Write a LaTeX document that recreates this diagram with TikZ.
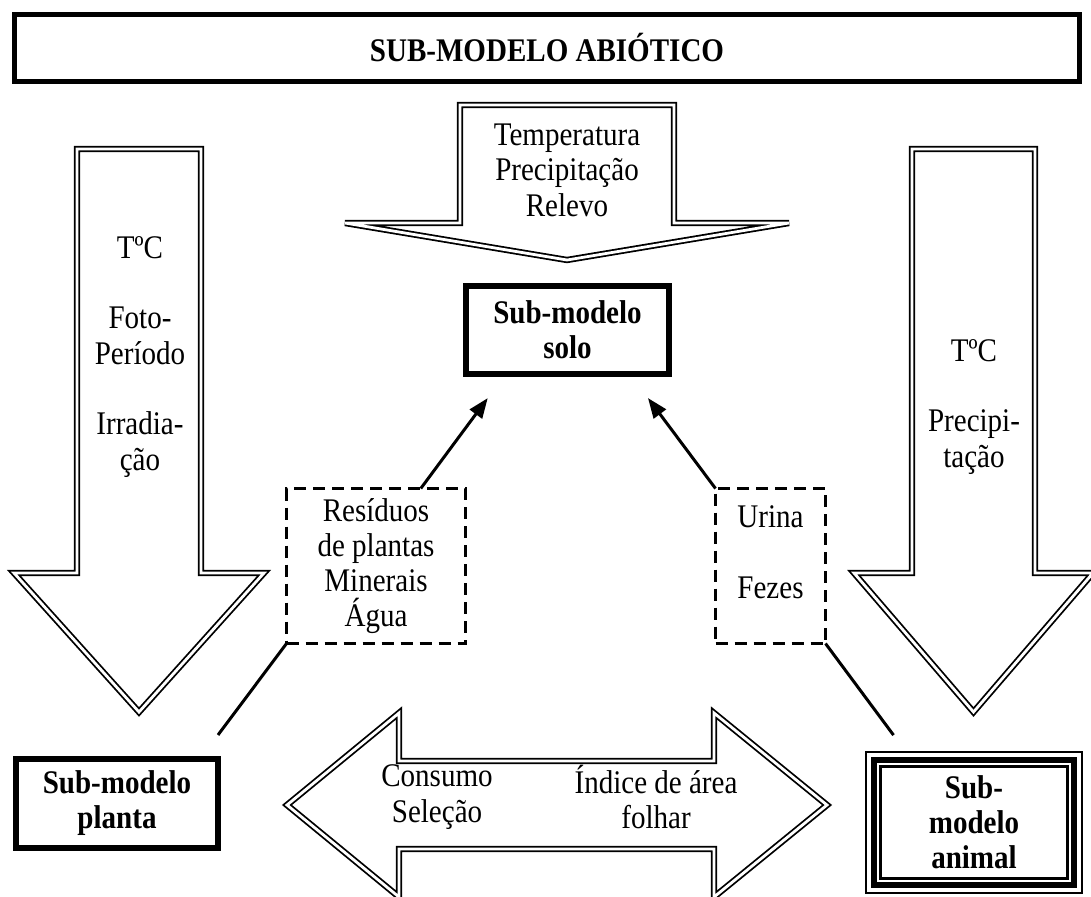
\documentclass[tikz,border=0pt]{standalone}
\usepackage{fontspec}
\setmainfont{Liberation Serif}[FakeStretch=0.88]
\usetikzlibrary{arrows.meta,calc}
\begin{document}
\begin{tikzpicture}[x=1pt,y=-1pt,
  dbl/.style={draw=black,line width=1.8pt,double=white,double distance=2.8pt,line join=miter,miter limit=12},
  lbl/.style={font=\fontsize{33}{35.5}\selectfont,align=center,inner sep=0pt},
  thickbox/.style={draw,line width=6pt,inner sep=0pt,outer sep=0pt,align=center,font=\bfseries\fontsize{33}{35}\selectfont},
  dashbox/.style={draw,line width=3pt,dash pattern=on 12pt off 7pt,inner sep=0pt,outer sep=0pt,align=center,font=\fontsize{33}{35}\selectfont},
  conn/.style={line width=3pt},
  arr/.style={conn,-{Triangle[length=20pt,width=15pt]}}]
\useasboundingbox (0,0) rectangle (1091,896);
\clip (0,0) rectangle (1091,896);

% big hollow arrows
\draw[dbl] (77,149) -- (201,149) -- (201,573) -- (264,573) -- (139,712) -- (14,573) -- (77,573) -- cycle;
\draw[dbl] (912,149) -- (1035,149) -- (1035,573) -- (1093,573) -- (973.5,712) -- (854,573) -- (912,573) -- cycle;
\draw[dbl] (460,105) -- (674,105) -- (674,223) -- (789,223) -- (567,260) -- (345,223) -- (460,223) -- cycle;
\draw[dbl] (287,805) -- (399,713) -- (399,761) -- (714,761) -- (714,713) -- (827,805) -- (714,897) -- (714,849) -- (399,849) -- (399,897) -- cycle;

% arrow texts
\node[lbl] (tl) at (140,357) {TºC\\[35pt]Foto-\\Período\\[35pt]Irradia-\\ção};
\node[lbl] (tr) at (974,407) {TºC\\[35pt]Precipi-\\tação};
\node[lbl] (tt) at (567,170) {Temperatura\\Precipitação\\Relevo};
\node[lbl] (tb1) at (437,797) {Consumo\\Seleção};
\node[lbl] (tb2) at (656,797) {Índice de área\\folhar};

% boxes
\node[thickbox,line width=5pt,minimum width=1065pt,minimum height=67pt] (title) at (547,48) {SUB-MODELO ABIÓTICO};
\node[thickbox,minimum width=203pt,minimum height=88pt] (solo) at (567.5,330) {Sub-modelo\\solo};
\node[thickbox,minimum width=202pt,minimum height=89pt] (planta) at (117,803.5) {Sub-modelo\\planta};
\node[thickbox,minimum width=200pt,minimum height=125pt] (animal) at (974,822.5) {Sub-\\modelo\\animal};
\draw[line width=2pt] ([xshift=-8pt,yshift=8pt]animal.north west) rectangle ([xshift=8pt,yshift=-8pt]animal.south east);
\draw[line width=2.5pt] ([xshift=6.5pt,yshift=-6.5pt]animal.north west) rectangle ([xshift=-6.5pt,yshift=6.5pt]animal.south east);

\node[dashbox,minimum width=179pt,minimum height=155pt] (ld) at (376,566) {Resíduos\\de plantas\\Minerais\\Água};
\node[dashbox,minimum width=110pt,minimum height=155pt] (rd) at (770.5,566) {};
\node[lbl] (rdtext) at (770.5,552) {Urina\\[35pt]Fezes};

% connectors
\draw[arr,shorten >=30pt] ($(ld.north west)!0.75!(ld.north east)$) -- ($(solo.south west)!0.195!(solo.south east)$);
\draw[arr,shorten >=30pt] (rd.north west) -- ($(solo.south west)!0.808!(solo.south east)$);
\draw[conn,shorten >=30pt] (ld.south west) -- ($(planta.north west)!0.911!(planta.north east)$);
\draw[conn,shorten >=31pt] (rd.south east) -- ($(animal.north west)!0.19!(animal.north east)$);
\end{tikzpicture}
\end{document}
